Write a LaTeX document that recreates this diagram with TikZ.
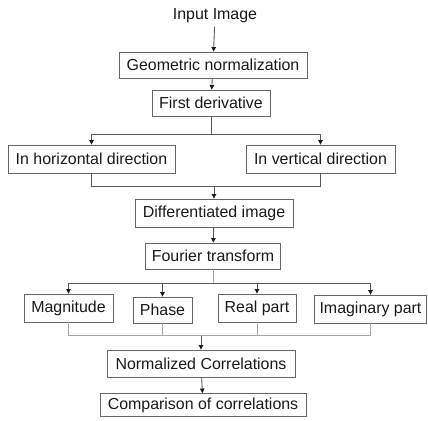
\documentclass[tikz,border=0pt]{standalone}
\usepackage{fontspec}
\setmainfont{Liberation Sans}
\usetikzlibrary{arrows.meta,calc}
\begin{document}
\begin{tikzpicture}[x=1bp,y=-1bp,
  box/.style={draw=black!60,line width=0.9bp,rectangle,inner sep=0pt,text=black!90,
    font=\fontsize{16}{19}\selectfont},
  conn/.style={draw=black!65,line width=0.9bp},
  merge/.style={draw=black!35,line width=0.9bp},
  arr/.style={conn,-{Triangle[length=4.5bp,width=4.5bp,color=black!90]}}]
\useasboundingbox (0,0) rectangle (428,421);
\node[text=black!90,font=\fontsize{16}{19}\selectfont] (in) at (215,16) {Input Image};
\node[box,minimum width=188bp,minimum height=26bp] (geo) at (213,65) {Geometric normalization};
\node[box,minimum width=118bp,minimum height=26bp] (fd) at (211,103) {First derivative};
\node[box,minimum width=167bp,minimum height=28bp] (hor) at (91.5,159) {In horizontal direction};
\node[box,minimum width=149bp,minimum height=28bp] (ver) at (320.5,159) {In vertical direction};
\node[box,minimum width=158bp,minimum height=28bp] (diff) at (214,213) {Differentiated image};
\node[box,minimum width=135bp,minimum height=26bp] (four) at (213,256) {Fourier transform};
\node[box,minimum width=89bp,minimum height=28bp] (mag) at (68.5,308) {Magnitude};
\node[box,minimum width=59bp,minimum height=26bp] (pha) at (162.5,310) {Phase};
\node[box,minimum width=78bp,minimum height=28bp] (rea) at (257,308) {Real part};
\node[box,minimum width=112bp,minimum height=28bp] (ima) at (370.5,309) {Imaginary part};
\node[box,minimum width=188bp,minimum height=27bp] (nor) at (201,363.5) {Normalized Correlations};
\node[box,minimum width=206bp,minimum height=23bp] (com) at (203,405) {Comparison of correlations};
% junctions
\coordinate (j1) at ($(fd.south)+(0,18)$);
\coordinate (j2) at ($(diff.north)+(0,-12)$);
\coordinate (j3) at ($(four.south)+(0,14)$);
\coordinate (j4) at ($(nor.north)+(0,-14)$);
% connectors
\draw[arr] (in) -- (geo);
\draw[arr] (geo) -- (fd);
\draw[conn] (fd) -- (j1);
\draw[arr] (j1) -| (hor.north);
\draw[arr] (j1) -| (ver.north);
\draw[conn] (hor.south) |- (j2);
\draw[conn] (ver.south) |- (j2);
\draw[arr] (j2) -- (diff);
\draw[arr] (diff) -- (four);
\draw[merge] (four) -- (j3);
\draw[arr] (j3) -| (mag.north);
\draw[arr] (j3) -| (pha.north);
\draw[arr] (j3) -| (rea.north);
\draw[arr] (j3) -| (ima.north);
\draw[merge] (mag.south) |- (j4);
\draw[merge] (pha.south) |- (j4);
\draw[merge] (rea.south) |- (j4);
\draw[merge] (ima.south) |- (j4);
\draw[arr] (j4) -- (nor);
\draw[arr] (nor) -- (com);
\end{tikzpicture}
\end{document}
